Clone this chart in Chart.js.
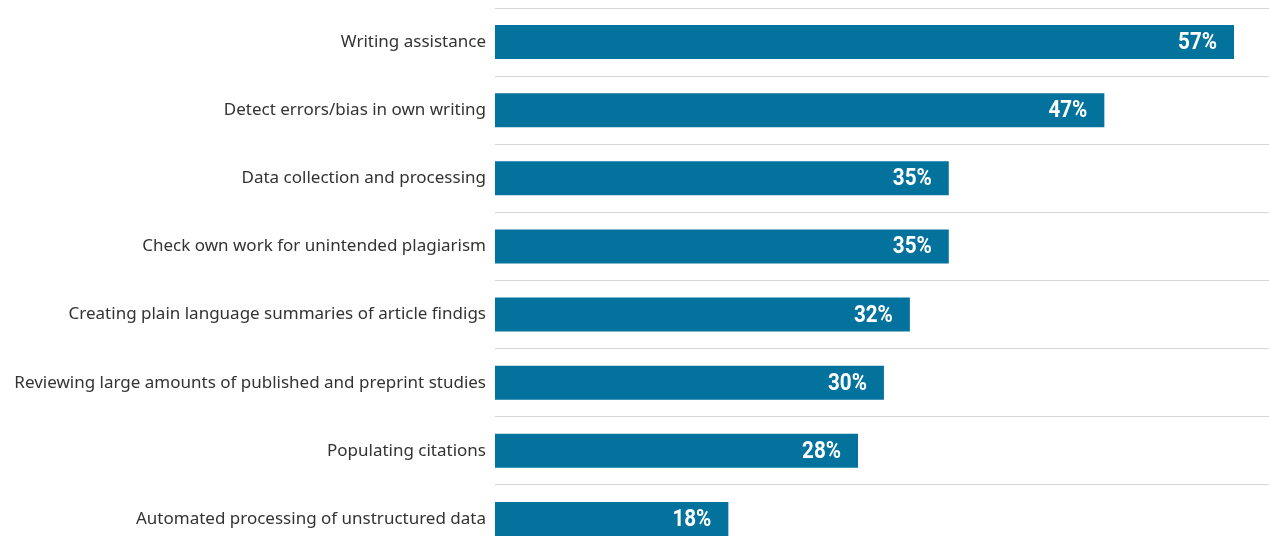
<!DOCTYPE html>
<html>
<head>
<meta charset="utf-8">
<script src="https://cdn.jsdelivr.net/npm/chart.js@4.4.1/dist/chart.umd.min.js"></script>
<style>
  html, body { margin: 0; padding: 0; background: #fff; overflow: hidden; }
  canvas { display: block; }
</style>
</head>
<body>
<canvas id="chart" width="1269" height="560"></canvas>
<script>
const categories = [
  "Writing assistance",
  "Detect errors/bias in own writing",
  "Data collection and processing",
  "Check own work for unintended plagiarism",
  "Creating plain language summaries of article findigs",
  "Reviewing large amounts of published and preprint studies",
  "Populating citations",
  "Automated processing of unstructured data",
];
const shares = [57, 47, 35, 35, 32, 30, 28, 18];

const palette = {
  bar: "#03739d",
  grid: "#d4d4d4",
  label: "#333333",
};

// bold condensed look: draw Roboto bold squeezed horizontally
const valueLabels = {
  id: "valueLabels",
  afterDatasetsDraw(chart) {
    const ctx = chart.ctx;
    const meta = chart.getDatasetMeta(0);
    const squeeze = 0.86;
    ctx.save();
    ctx.fillStyle = "#ffffff";
    ctx.font = "bold 24px Roboto, sans-serif";
    ctx.textAlign = "right";
    ctx.textBaseline = "middle";
    meta.data.forEach((bar, i) => {
      ctx.save();
      ctx.translate(bar.x - 17, bar.y + 1);
      ctx.scale(squeeze, 1);
      ctx.fillText(`${shares[i]}%`, 0, 0);
      ctx.restore();
    });
    ctx.restore();
  },
};

new Chart(document.getElementById("chart"), {
  type: "bar",
  data: {
    labels: categories,
    datasets: [
      {
        data: shares,
        backgroundColor: palette.bar,
        borderWidth: 0,
        barPercentage: 0.5,
        categoryPercentage: 1,
      },
    ],
  },
  options: {
    indexAxis: "y",
    responsive: false,
    animation: false,
    layout: { padding: { top: 8, bottom: 7, left: 0, right: 0 } },
    plugins: { legend: { display: false }, tooltip: { enabled: false } },
    scales: {
      x: {
        display: false,
        min: 0,
        max: 59.7,
      },
      y: {
        afterFit: (scale) => {
          scale.width = 495;
          scale.paddingTop = 0;
          scale.paddingBottom = 0;
        },
        border: { display: false },
        grid: { offset: true, color: palette.grid, drawTicks: false, lineWidth: 1 },
        ticks: {
          padding: 9,
          color: palette.label,
          font: { family: "'Noto Sans', sans-serif", size: 17 },
        },
      },
    },
  },
  plugins: [valueLabels],
});
</script>
</body>
</html>
